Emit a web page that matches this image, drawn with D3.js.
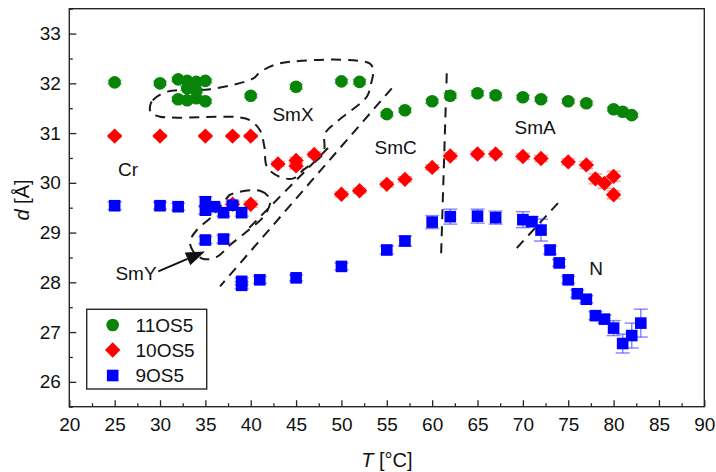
<!DOCTYPE html>
<html>
<head>
<meta charset="utf-8">
<script src="https://cdn.jsdelivr.net/npm/d3@7/dist/d3.min.js"></script>
<style>
  html, body { margin: 0; padding: 0; background: #fff; }
  svg { display: block; font-family: "Liberation Sans", Arial, sans-serif; }
</style>
</head>
<body>
<svg id="chart" width="716" height="472"></svg>
<script>
// Layer spacing d (Å) vs temperature T (°C) for three homologues
const xTicks = [20, 25, 30, 35, 40, 45, 50, 55, 60, 65, 70, 75, 80, 85, 90];
const yTicks = [26, 27, 28, 29, 30, 31, 32, 33];

// 11OS5 : [T, d, error]
const s11OS5 = [
  [25, 32.02, 0.04], [30, 32.00, 0.04],
  [32, 32.08, 0.04], [33, 32.05, 0.04], [34, 32.03, 0.04], [35, 32.05, 0.04],
  [33, 31.90, 0.04], [34, 31.85, 0.04],
  [32, 31.68, 0.04], [33, 31.66, 0.04], [34, 31.70, 0.04], [35, 31.64, 0.04],
  [40, 31.75, 0.04], [45, 31.93, 0.05], [50, 32.04, 0.04], [52, 32.03, 0.05],
  [55, 31.38, 0.04], [57, 31.46, 0.04], [60, 31.64, 0.04], [62, 31.75, 0.05],
  [65, 31.80, 0.05], [67, 31.76, 0.05], [70, 31.72, 0.04], [72, 31.68, 0.04],
  [75, 31.64, 0.04], [77, 31.60, 0.04], [80, 31.48, 0.04], [81, 31.43, 0.04],
  [82, 31.36, 0.04]
];

// 10OS5 : [T, d, error]
const s10OS5 = [
  [25, 30.94, 0.03], [30, 30.94, 0.03], [35, 30.94, 0.03], [38, 30.94, 0.03],
  [40, 30.94, 0.03], [38, 29.57, 0.06], [40, 29.57, 0.06],
  [43, 30.38, 0.05], [45, 30.45, 0.06], [45, 30.34, 0.06], [47, 30.57, 0.05],
  [50, 29.77, 0.05], [52, 29.84, 0.05], [55, 29.97, 0.05], [57, 30.07, 0.05],
  [60, 30.31, 0.05], [62, 30.54, 0.06], [65, 30.58, 0.06], [67, 30.58, 0.06],
  [70, 30.53, 0.06], [72, 30.49, 0.06], [75, 30.42, 0.06], [77, 30.36, 0.07],
  [78, 30.08, 0.10], [79, 29.99, 0.10], [80, 30.13, 0.10], [80, 29.76, 0.08]
];

// 9OS5 : [T, d, error]
const s9OS5 = [
  [25, 29.54, 0.08], [30, 29.54, 0.07], [32, 29.52, 0.07],
  [35, 29.62, 0.10], [35, 29.45, 0.08], [36, 29.52, 0.07], [37, 29.40, 0.07],
  [38, 29.55, 0.07], [39, 29.40, 0.07],
  [35, 28.85, 0.07], [37, 28.87, 0.08],
  [39, 28.02, 0.07], [39, 27.94, 0.07], [41, 28.05, 0.07], [45, 28.09, 0.06],
  [50, 28.32, 0.07], [55, 28.65, 0.08], [57, 28.83, 0.10], [60, 29.21, 0.13],
  [62, 29.32, 0.15], [65, 29.33, 0.14], [67, 29.30, 0.13], [70, 29.26, 0.16],
  [71, 29.22, 0.10], [72, 29.05, 0.22], [73, 28.65, 0.08], [74, 28.39, 0.07],
  [75, 28.05, 0.07], [76, 27.77, 0.07], [77, 27.66, 0.07], [78, 27.33, 0.08],
  [79, 27.26, 0.08], [80, 27.08, 0.15], [81, 26.77, 0.19], [82, 26.93, 0.25],
  [83, 27.18, 0.28]
];

// Phase boundaries, [T, d]
const loopSmX = [
  [28.9, 31.54], [29.2, 31.66], [30.74, 31.83], [35.5, 31.88], [40.3, 32.10],
  [41.0, 32.22], [43.2, 32.40], [53.1, 32.40], [53.5, 32.26], [53.2, 31.95],
  [52.8, 31.73], [49.5, 31.23], [48.2, 30.99], [48.0, 30.59], [45.8, 30.26],
  [44.7, 30.09], [43.2, 30.12], [41.8, 30.32], [41.5, 30.73], [41.0, 31.06],
  [39.9, 31.26], [38.5, 31.32], [30.0, 31.33], [29.0, 31.41]
];
const loopSmY = [
  [37.72, 29.76], [41.03, 29.84], [42.13, 29.66], [41.58, 29.36], [39.56, 29.02],
  [37.72, 28.75], [36.25, 28.51], [34.77, 28.47], [33.67, 28.62], [33.31, 28.82],
  [34.05, 29.05], [35.70, 29.32], [37.35, 29.69]
];
const boundaryLines = [
  [[55.55, 31.90], [36.62, 27.92]],
  [[48.52, 30.70], [39.37, 29.01]],
  [[61.61, 32.20], [60.98, 28.52]],
  [[69.33, 28.69], [73.91, 29.60]]
];
const arrowSmY = [[29.81, 28.22], [34.96, 28.62]];

const phaseLabels = [
  { text: "Cr",  T: 26.47, d: 30.28 },
  { text: "SmX", T: 44.66, d: 31.38 },
  { text: "SmC", T: 55.98, d: 30.72 },
  { text: "SmA", T: 71.35, d: 31.12 },
  { text: "N",   T: 78.07, d: 28.29 },
  { text: "SmY", T: 27.35, d: 28.19 }
];

const seriesNames = ["11OS5", "10OS5", "9OS5"];
const seriesColors = ["#088408", "#ff0000", "#0000ff"];
const errColors = ["rgba(8,132,8,0.45)", "rgba(255,40,40,0.45)", "rgba(40,40,255,0.55)"];
const seriesData = [s11OS5, s10OS5, s9OS5];

const svg = d3.select("#chart");
const plotL = 69.3, plotR = 704.3, plotT = 8.7, plotB = 406.7;
const x = d3.scaleLinear().domain([20, 90]).range([plotL, plotR]);
const y = d3.scaleLinear().domain([25.5, 33.5]).range([plotB, plotT]);

// Frame
svg.append("rect")
  .attr("x", plotL).attr("y", plotT)
  .attr("width", plotR - plotL).attr("height", plotB - plotT)
  .attr("fill", "none").attr("stroke", "#262626").attr("stroke-width", 1.4);

// Axes (ticks point inward)
const xMinor = d3.range(22.5, 90, 5);
const yMinor = d3.range(25.5, 33.6, 1);

const gx = svg.append("g").attr("transform", `translate(0,${plotB})`)
  .call(d3.axisBottom(x).tickValues(xTicks).tickSize(-6.5).tickPadding(11).tickFormat(d3.format("d")));
const gxm = svg.append("g").attr("transform", `translate(0,${plotB})`)
  .call(d3.axisBottom(x).tickValues(xMinor).tickSize(-3.5).tickFormat(""));
const gy = svg.append("g").attr("transform", `translate(${plotL},0)`)
  .call(d3.axisLeft(y).tickValues(yTicks).tickSize(-7).tickPadding(8.5).tickFormat(d3.format("d")));
const gym = svg.append("g").attr("transform", `translate(${plotL},0)`)
  .call(d3.axisLeft(y).tickValues(yMinor).tickSize(-3.5).tickFormat(""));

[gx, gxm, gy, gym].forEach(g => {
  g.select(".domain").remove();
  g.selectAll(".tick line").attr("stroke", "#262626").attr("stroke-width", 1.3);
  g.selectAll(".tick text").attr("font-size", 19).attr("fill", "#111")
    .attr("font-family", "'Liberation Sans', Arial, sans-serif");
});

// Axis titles
const xt = svg.append("text").attr("x", (plotL + plotR) / 2).attr("y", 467)
  .attr("text-anchor", "middle").attr("font-size", 20).attr("fill", "#111");
xt.append("tspan").attr("font-style", "italic").text("T");
xt.append("tspan").text(" [°C]");

const yt = svg.append("text").attr("transform", "translate(29,200) rotate(-90)")
  .attr("text-anchor", "middle").attr("font-size", 20).attr("fill", "#111");
yt.append("tspan").attr("font-style", "italic").text("d");
yt.append("tspan").text(" [Å]");

// Phase boundaries
const dash = g => g.attr("fill", "none").attr("stroke", "#1a1a1a")
  .attr("stroke-width", 2).attr("stroke-dasharray", "10,7");
const lineClosed = d3.line().x(p => x(p[0])).y(p => y(p[1])).curve(d3.curveCatmullRomClosed.alpha(0.5));
const lineOpen = d3.line().x(p => x(p[0])).y(p => y(p[1]));

svg.append("path").attr("d", lineClosed(loopSmX)).call(dash);
svg.append("path").attr("d", lineClosed(loopSmY)).call(dash);
boundaryLines.forEach(l => svg.append("path").attr("d", lineOpen(l)).call(dash));

// Arrow pointing at the SmY region
(function () {
  const x1 = x(arrowSmY[0][0]), y1 = y(arrowSmY[0][1]);
  const x2 = x(arrowSmY[1][0]), y2 = y(arrowSmY[1][1]);
  const a = Math.atan2(y2 - y1, x2 - x1), L = 19, W = 7;
  const bx = x2 - L * Math.cos(a), by = y2 - L * Math.sin(a);
  svg.append("line").attr("x1", x1).attr("y1", y1).attr("x2", bx).attr("y2", by)
    .attr("stroke", "#111").attr("stroke-width", 2);
  svg.append("path")
    .attr("d", `M${x2},${y2} L${bx + W * Math.sin(a)},${by - W * Math.cos(a)} L${bx - W * Math.sin(a)},${by + W * Math.cos(a)} Z`)
    .attr("fill", "#111");
})();

// Phase labels
svg.append("g").selectAll("text").data(phaseLabels).join("text")
  .attr("x", d => x(d.T)).attr("y", d => y(d.d)).attr("dy", "0.36em")
  .attr("text-anchor", "middle").attr("font-size", 19).attr("fill", "#111")
  .text(d => d.text);

// Markers
const diamond = d3.symbol().type(d3.symbolSquare).size(118);
function drawMarker(sel, i) {
  if (i === 0) {
    sel.append("circle").attr("r", 6.3).attr("fill", seriesColors[i]);
  } else if (i === 1) {
    sel.append("path").attr("d", diamond()).attr("transform", "rotate(45)").attr("fill", seriesColors[i]);
  } else {
    sel.append("rect").attr("x", -5.8).attr("y", -5.8).attr("width", 11.6).attr("height", 11.6)
      .attr("fill", seriesColors[i]);
  }
}

seriesData.forEach((data, i) => {
  const g = svg.append("g");
  // error bars
  const eb = g.append("g").attr("stroke", errColors[i]).attr("stroke-width", 1.5);
  data.forEach(p => {
    const cx = x(p[0]), y0 = y(p[1] - p[2]), y1 = y(p[1] + p[2]);
    eb.append("line").attr("x1", cx).attr("x2", cx).attr("y1", y0).attr("y2", y1);
    eb.append("line").attr("x1", cx - 7).attr("x2", cx + 7).attr("y1", y0).attr("y2", y0);
    eb.append("line").attr("x1", cx - 7).attr("x2", cx + 7).attr("y1", y1).attr("y2", y1);
  });
  data.forEach(p => {
    const m = g.append("g").attr("transform", `translate(${x(p[0])},${y(p[1])})`);
    drawMarker(m, i);
  });
});

// Legend
const legend = svg.append("g");
legend.append("rect").attr("x", 86.7).attr("y", 309.3).attr("width", 120).attr("height", 79.7)
  .attr("fill", "#fff").attr("stroke", "#262626").attr("stroke-width", 1.4);
const legendRows = [325, 350, 375.5];
seriesNames.forEach((name, i) => {
  const m = legend.append("g").attr("transform", `translate(112.7,${legendRows[i]})`);
  drawMarker(m, i);
  legend.append("text").attr("x", 135.5).attr("y", legendRows[i]).attr("dy", "0.36em")
    .attr("font-size", 19).attr("fill", "#111").text(name);
});
</script>
</body>
</html>
